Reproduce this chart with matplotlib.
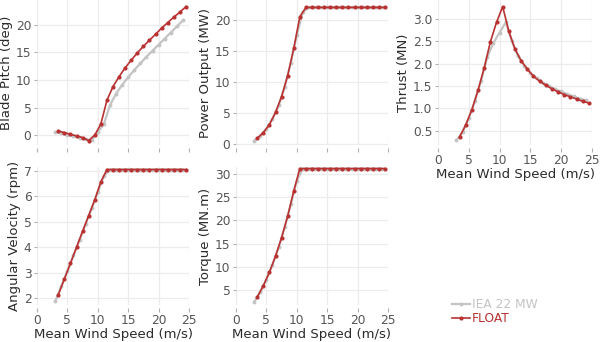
#!/usr/bin/env python3

"""
Steady-state rotor performance of the IEA 22 MW reference turbine vs. FLOAT.
Five small panels against mean wind speed, legend in the empty sixth slot.
"""

import matplotlib
matplotlib.use("Agg")
import matplotlib.pyplot as plt
from matplotlib.ticker import FormatStrFormatter

# Wind speeds of each data set (m/s)
wind_iea = [3, 4, 5, 6, 7, 8, 9, 10, 11, 12, 13, 14, 15, 16, 17, 18, 19, 20,
            21, 22, 23, 24]
wind_float = [3.5, 4.5, 5.5, 6.5, 7.5, 8.5, 9.5, 10.5, 11.5, 12.5, 13.5, 14.5,
              15.5, 16.5, 17.5, 18.5, 19.5, 20.5, 21.5, 22.5, 23.5, 24.5]

# Blade pitch (deg)
pitch_iea = [0.55, 0.3, 0.05, -0.2, -0.45, -0.8, -0.9, 0.5, 2.0, 5.4, 7.5,
             9.1, 10.5, 11.8, 13.0, 14.2, 15.3, 16.4, 17.5, 18.6, 19.7, 20.8]
pitch_float = [0.75, 0.45, 0.15, -0.15, -0.45, -1.0, 0.0, 2.0, 6.3, 8.8, 10.6,
               12.2, 13.6, 14.9, 16.1, 17.2, 18.3, 19.4, 20.4, 21.4, 22.3, 23.3]

# Power output (MW)
power_iea = [0.5, 1.3, 2.4, 4.0, 6.2, 9.2, 13.0, 17.5, 21.3, 22.0, 22.0, 22.0,
             22.0, 22.0, 22.0, 22.0, 22.0, 22.0, 22.0, 22.0, 22.0, 22.0]
power_float = [0.9, 1.8, 3.1, 5.05, 7.6, 11.0, 15.4, 20.5, 22.0, 22.0, 22.0,
               22.0, 22.0, 22.0, 22.0, 22.0, 22.0, 22.0, 22.0, 22.0, 22.0, 22.0]

# Rotor thrust (MN)
thrust_iea = [0.29, 0.47, 0.78, 1.17, 1.62, 2.15, 2.47, 2.7, 2.93, 2.5, 2.17,
              1.96, 1.8, 1.68, 1.58, 1.5, 1.43, 1.38, 1.32, 1.27, 1.22, 1.18]
thrust_float = [0.36, 0.63, 0.97, 1.41, 1.91, 2.49, 2.93, 3.28, 2.73, 2.33,
                2.07, 1.88, 1.72, 1.61, 1.52, 1.44, 1.37, 1.31, 1.26, 1.21,
                1.16, 1.12]

# Rotor speed (rpm)
speed_iea = [1.87, 2.47, 3.07, 3.68, 4.3, 4.92, 5.54, 6.16, 6.8, 7.06, 7.06,
             7.06, 7.06, 7.06, 7.06, 7.06, 7.06, 7.06, 7.06, 7.06, 7.06, 7.06]
speed_float = [2.13, 2.75, 3.37, 4.0, 4.63, 5.25, 5.87, 6.58, 7.06, 7.06, 7.06,
               7.06, 7.06, 7.06, 7.06, 7.06, 7.06, 7.06, 7.06, 7.06, 7.06, 7.06]

# Generator torque (MN.m)
torque_iea = [2.5, 4.7, 7.3, 10.5, 14.2, 18.5, 23.4, 28.5, 31.1, 31.1, 31.1,
              31.1, 31.1, 31.1, 31.1, 31.1, 31.1, 31.1, 31.1, 31.1, 31.1, 31.1]
torque_float = [3.57, 6.0, 8.9, 12.3, 16.3, 20.9, 26.3, 31.1, 31.1, 31.1, 31.1,
                31.1, 31.1, 31.1, 31.1, 31.1, 31.1, 31.1, 31.1, 31.1, 31.1, 31.1]

IEA_COLOR = "#c4c4c4"
FLOAT_COLOR = "#b83232"
GRID_COLOR = "#ececec"
TICK_COLOR = "#b0b0b0"
W, H = 615, 342


def make_axes(fig, left, top, right, bottom):
    """Add an axes given pixel edges (origin top-left)."""
    return fig.add_axes([left / W, 1 - bottom / H, (right - left) / W, (bottom - top) / H])


def style_axes(ax, ylabel, yticks, ylim, show_xlabels):
    """Plotly-like look: no frame, light grid, outside grey ticks."""
    for side in ax.spines.values():
        side.set_visible(False)
    ax.spines["bottom"].set_position(("outward", 2))
    ax.set_xlim(0, 25)
    ax.set_ylim(*ylim)
    ax.set_xticks([0, 5, 10, 15, 20, 25])
    ax.set_yticks(yticks)
    ax.grid(True, color=GRID_COLOR, lw=0.9)
    ax.set_axisbelow(True)
    ax.tick_params(direction="out", width=0.8, color=TICK_COLOR,
                   labelcolor="#555555", labelsize=8.8)
    ax.tick_params(axis="x", length=3, pad=1.5)
    ax.tick_params(axis="y", length=2.5, pad=1.5)
    if not show_xlabels:
        ax.tick_params(axis="x", labelbottom=False)
    else:
        ax.set_xlabel("Mean Wind Speed (m/s)", fontsize=9.5, color="#2b2b2b", labelpad=1)
    ax.set_ylabel(ylabel, fontsize=9.5, color="#2b2b2b", labelpad=2)


def plot_pair(ax, iea, flt):
    ax.plot(wind_iea, iea, color=IEA_COLOR, lw=1.6, marker="o", ms=1.8,
            label="IEA 22 MW", zorder=3)
    ax.plot(wind_float, flt, color=FLOAT_COLOR, lw=1.2, marker="o", ms=2.0,
            label="FLOAT", zorder=4)


def main():
    fig = plt.figure(figsize=(W / 100, H / 100), dpi=100)
    plt.rcParams["font.family"] = ["DejaVu Sans"]

    ax_pitch = make_axes(fig, 37, 0, 189, 145)
    ax_power = make_axes(fig, 236, 0, 388, 145)
    ax_thrust = make_axes(fig, 438, 0, 592, 145)
    ax_speed = make_axes(fig, 37, 167, 189, 305)
    ax_torque = make_axes(fig, 236, 167, 388, 305)

    plot_pair(ax_pitch, pitch_iea, pitch_float)
    plot_pair(ax_power, power_iea, power_float)
    plot_pair(ax_thrust, thrust_iea, thrust_float)
    plot_pair(ax_speed, speed_iea, speed_float)
    plot_pair(ax_torque, torque_iea, torque_float)

    style_axes(ax_pitch, "Blade Pitch (deg)", [0, 5, 10, 15, 20], (-1.8, 24.5), False)
    style_axes(ax_power, "Power Output (MW)", [0, 5, 10, 15, 20], (-0.2, 23.2), False)
    style_axes(ax_thrust, "Thrust (MN)", [0.5, 1.0, 1.5, 2.0, 2.5, 3.0], (0.18, 3.43), True)
    ax_thrust.yaxis.set_major_formatter(FormatStrFormatter("%.1f"))
    style_axes(ax_speed, "Angular Velocity (rpm)", [2, 3, 4, 5, 6, 7], (1.73, 7.16), True)
    style_axes(ax_torque, "Torque (MN.m)", [5, 10, 15, 20, 25, 30], (1.85, 31.44), True)

    handles, labels = ax_pitch.get_legend_handles_labels()
    fig.legend(handles, labels, loc="upper left", bbox_to_anchor=(452 / W, 1 - 298 / H),
               frameon=False, fontsize=8.8, handlelength=1.45, handletextpad=0.2,
               labelspacing=0.1, borderaxespad=0, borderpad=0,
               labelcolor="linecolor")

    fig.savefig("out.png", dpi=100)


if __name__ == "__main__":
    main()
